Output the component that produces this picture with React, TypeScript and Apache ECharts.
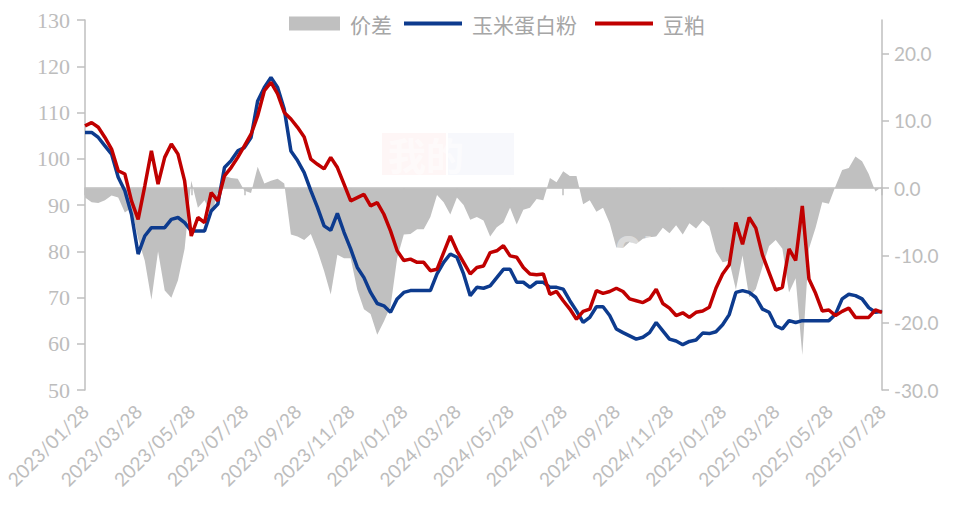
import React, { useEffect, useRef } from "react";
import * as echarts from "echarts";

// Categories: roughly weekly points, 2023/01/28 .. 2025/07/28
const startYear = 2023;
const monthCount = 30;
function dateLabel(k: number, day: number): string {
  const y = startYear + Math.floor(k / 12);
  const m = (k % 12) + 1;
  return `${y}/${String(m).padStart(2, "0")}/${String(day).padStart(2, "0")}`;
}
const categories: string[] = [];
for (let k = 0; k < monthCount; k++) {
  categories.push(dateLabel(k, 28), dateLabel(k + 1, 5), dateLabel(k + 1, 12), dateLabel(k + 1, 20));
}
categories.push(dateLabel(monthCount, 28));

const soymeal: number[] = [
  107.1, 107.8, 106.8, 104.6, 102.1, 97.4, 96.7, 90.9, 86.9, 94.1,
  101.7, 94.5, 100.3, 103.2, 101.0, 95.2, 83.3, 87.3, 86.2, 92.7,
  90.9, 96.3, 98.1, 100.3, 102.8, 105.3, 109.3, 114.7, 116.5, 114.0,
  110.0, 108.6, 106.8, 104.7, 99.9, 98.8, 97.8, 100.3, 98.1, 94.5,
  90.9, 91.6, 92.3, 89.8, 90.5, 88.0, 84.4, 80.1, 78.0, 78.3,
  77.6, 77.6, 75.8, 76.1, 79.7, 83.3, 80.1, 77.6, 75.1, 76.5,
  76.8, 79.7, 80.1, 81.2, 79.0, 78.7, 76.5, 75.1, 74.9, 75.1,
  70.7, 71.3, 69.3, 67.5, 65.3, 67.0, 67.5, 71.5, 70.9, 71.3,
  72.0, 71.3, 69.7, 69.3, 68.9, 69.7, 71.8, 68.7, 67.7, 66.1,
  66.7, 65.7, 66.8, 67.1, 67.9, 72.0, 75.1, 77.1, 86.2, 81.5,
  87.3, 85.0, 79.2, 75.4, 71.6, 72.2, 80.5, 78.0, 89.8, 74.0,
  70.9, 67.1, 67.3, 66.1, 67.0, 67.7, 65.7, 65.7, 65.7, 67.3,
  66.8,
];

const cornProtein: number[] = [
  105.7, 105.7, 104.6, 102.8, 101.0, 96.0, 93.1, 88.0, 79.4, 83.3,
  85.1, 85.1, 85.1, 86.9, 87.3, 86.2, 84.4, 84.4, 84.4, 88.7,
  90.2, 98.1, 99.6, 101.7, 102.4, 104.6, 112.5, 115.4, 117.6, 115.4,
  110.7, 101.7, 99.6, 97.0, 93.1, 89.5, 85.5, 84.5, 88.2, 84.1,
  80.5, 76.5, 74.3, 71.1, 68.7, 68.2, 66.8, 69.7, 71.1, 71.5,
  71.5, 71.5, 71.5, 75.1, 77.6, 79.4, 78.7, 75.1, 70.4, 72.2,
  72.0, 72.5, 74.3, 76.1, 76.1, 73.3, 73.3, 72.2, 73.3, 73.3,
  72.2, 72.2, 71.8, 69.3, 67.1, 64.6, 65.7, 68.0, 68.0, 66.1,
  63.2, 62.4, 61.7, 61.0, 61.4, 62.4, 64.6, 62.8, 61.0, 60.6,
  59.8, 60.5, 60.8, 62.3, 62.2, 62.6, 64.1, 66.3, 71.1, 71.5,
  71.1, 70.0, 67.5, 66.8, 63.9, 63.2, 65.0, 64.6, 65.0, 65.0,
  65.0, 65.0, 65.0, 66.4, 69.7, 70.7, 70.4, 69.7, 67.8, 66.8,
  67.0,
];

// 价差 = 玉米蛋白粉 - 豆粕
const spread: number[] = cornProtein.map((v, i) => Math.round((v - soymeal[i]) * 10) / 10);

const leftTicks = { min: 50, max: 130, interval: 10 };
const rightTicks = { min: -30, max: 25, interval: 10 };

const GRAY = "#bfbfbf";
const LABEL = "#bdbdbd";
const BLUE = "#0d3b8e";
const RED = "#c00000";

export default function App() {
  const ref = useRef<HTMLDivElement>(null);
  useEffect(() => {
    if (!ref.current) return;
    const chart = echarts.init(ref.current, null, { renderer: "svg" });
    const showIdx = (i: number) => i % 8 === 0;
    const legendText = {
      fontFamily: "Noto Sans CJK SC",
      fontSize: 21,
      color: "#a6a6a6",
      padding: [0, 0, 0, 5],
    };
    chart.setOption({
      animation: false,
      backgroundColor: "#ffffff",
      legend: [
        {
          left: 284,
          top: 8,
          itemWidth: 51,
          itemHeight: 14,
          textStyle: legendText,
          data: [{ name: "价差", icon: "rect" }],
        },
        {
          left: 399,
          top: 8,
          itemWidth: 58,
          itemHeight: 4,
          itemGap: 18,
          textStyle: legendText,
          data: [
            { name: "玉米蛋白粉", icon: "rect" },
            { name: "豆粕", icon: "rect" },
          ],
        },
      ],
      graphic: [
        {
          type: "rect",
          left: 382,
          top: 133,
          z: 2,
          silent: true,
          shape: { width: 64, height: 42 },
          style: { fill: "rgba(230,80,80,0.05)" },
        },
        {
          type: "rect",
          left: 448,
          top: 133,
          z: 2,
          silent: true,
          shape: { width: 66, height: 42 },
          style: { fill: "rgba(90,120,200,0.05)" },
        },
        {
          type: "text",
          left: 388,
          top: 134,
          z: 2,
          silent: true,
          style: {
            text: "我的",
            fontFamily: "Noto Sans CJK SC",
            fontSize: 38,
            fontWeight: "bold",
            fill: "rgba(255,255,255,0.55)",
          },
        },
        {
          type: "text",
          left: 405,
          top: 222,
          z: 2,
          silent: true,
          style: {
            text: "mysteel.com",
            fontFamily: "Open Sans",
            fontSize: 44,
            fontWeight: "bold",
            fill: "rgba(255,255,255,0.45)",
          },
        },
      ],
      grid: { left: 85, right: 74, top: 20, bottom: 116, containLabel: false, outerBoundsMode: "none" },
      xAxis: {
        type: "category",
        data: categories,
        boundaryGap: false,
        axisLine: { lineStyle: { color: GRAY, width: 1.5 } },
        axisTick: { show: true, interval: (i: number) => showIdx(i), length: 7, lineStyle: { color: GRAY, width: 1.5 } },
        axisLabel: {
          interval: (i: number) => showIdx(i),
          rotate: 45,
          margin: 18,
          fontFamily: "Lato",
          fontSize: 19,
          color: LABEL,
        },
        splitLine: { show: false },
      },
      yAxis: [
        {
          type: "value",
          ...leftTicks,
          position: "left",
          axisLine: { show: true, lineStyle: { color: GRAY, width: 1.5 } },
          axisTick: { show: true, length: 8, lineStyle: { color: GRAY, width: 1.5 } },
          axisLabel: { fontFamily: "Liberation Serif", fontSize: 22, color: LABEL, margin: 15 },
          splitLine: { show: false },
        },
        {
          type: "value",
          ...rightTicks,
          position: "right",
          axisLine: { show: true, lineStyle: { color: GRAY, width: 1.5 } },
          axisTick: { show: true, length: 7, lineStyle: { color: GRAY, width: 1.5 } },
          axisLabel: {
            fontFamily: "Lato",
            fontSize: 19,
            color: LABEL,
            margin: 12,
            showMaxLabel: false,
            formatter: (v: number) => v.toFixed(1),
          },
          splitLine: { show: false },
        },
      ],
      series: [
        {
          name: "价差",
          type: "line",
          yAxisIndex: 1,
          data: spread,
          symbol: "none",
          lineStyle: { width: 0 },
          itemStyle: { color: "#c0c0c0" },
          areaStyle: { color: "#c0c0c0", opacity: 1 },
          z: 1,
        },
        {
          name: "玉米蛋白粉",
          type: "line",
          data: cornProtein,
          symbol: "none",
          lineStyle: { width: 3.5, color: BLUE },
          itemStyle: { color: BLUE },
          z: 3,
        },
        {
          name: "豆粕",
          type: "line",
          data: soymeal,
          symbol: "none",
          lineStyle: { width: 3.5, color: RED },
          itemStyle: { color: RED },
          z: 4,
        },
      ],
    });
    return () => chart.dispose();
  }, []);
  return (
    <div
      ref={ref}
      style={{ position: "fixed", left: 0, top: 0, width: 956, height: 506, background: "#fff" }}
    />
  );
}
